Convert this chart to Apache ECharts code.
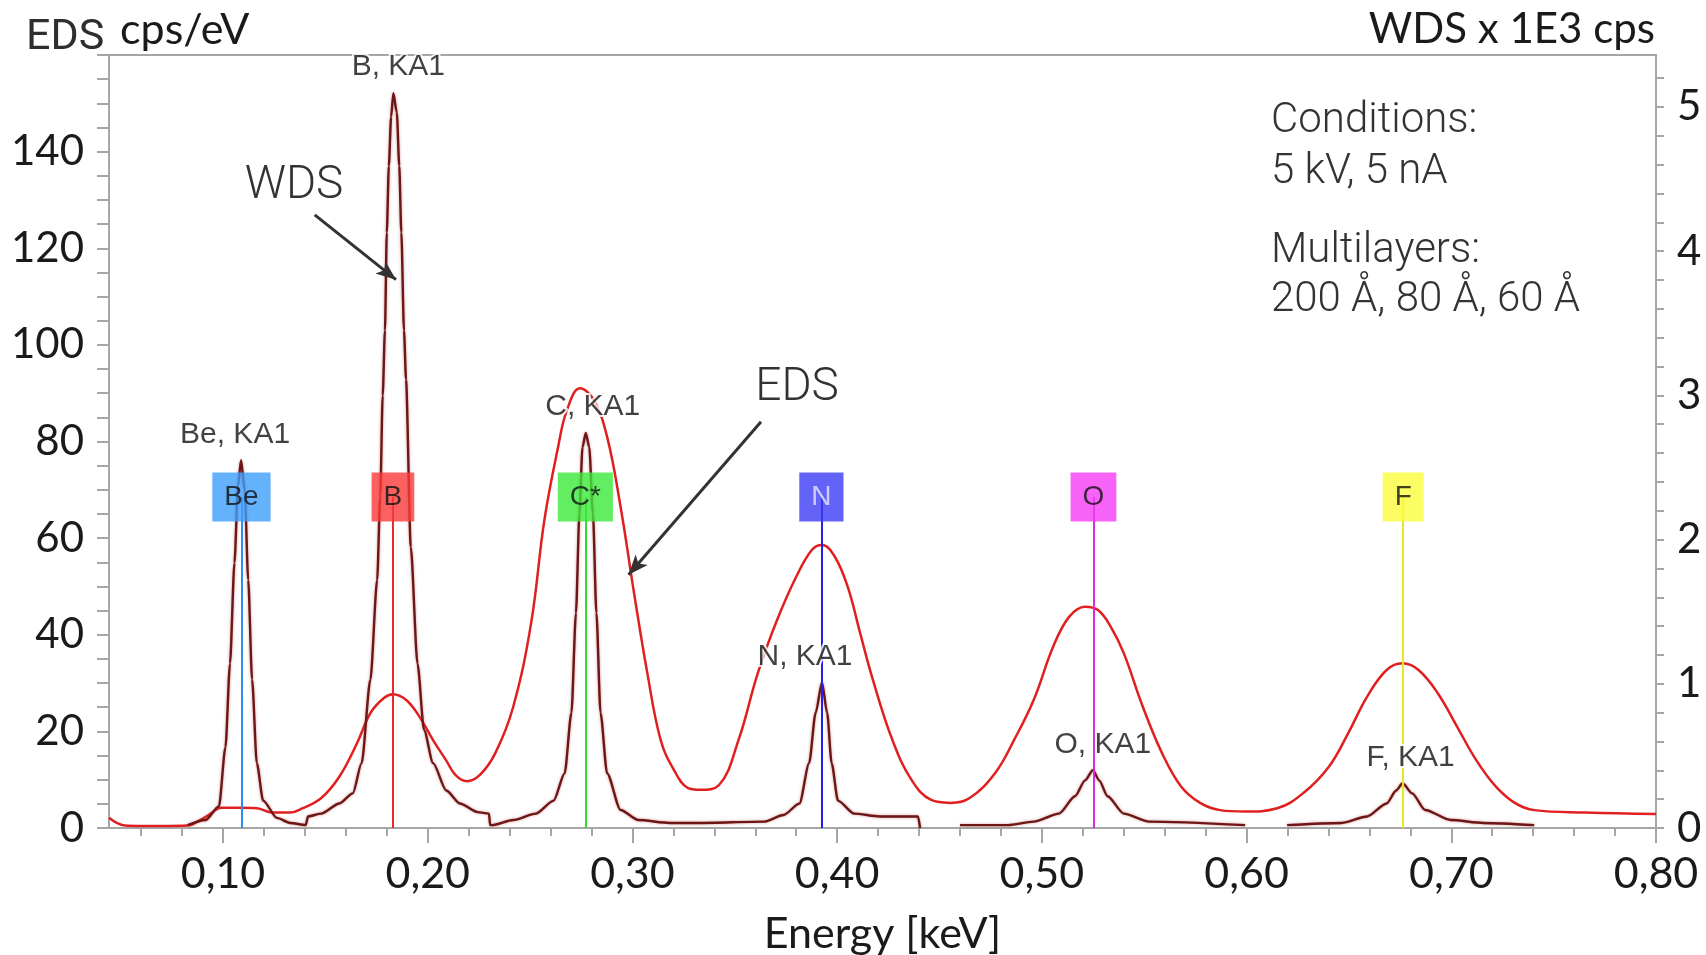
<!DOCTYPE html>
<html><head><meta charset="utf-8">
<script src="https://cdn.jsdelivr.net/npm/echarts@6/dist/echarts.min.js"></script>
<style>html,body{margin:0;padding:0;background:#fff}#c{width:1706px;height:955px}</style>
</head><body><div id="c"></div>
<script>
// ---- data ----
const edsEnergy = [0.0443,0.052,0.060,0.070,0.0827,0.089,0.094,0.099,0.108,0.1165,0.124,0.1328,0.139,0.148,0.1568,0.1655,0.172,0.1786,0.183,0.1895,0.196,0.2026,0.209,0.2135,0.219,0.2255,0.233,0.2417,0.2505,0.257,0.2637,0.268,0.2744,0.2811,0.2876,0.2942,0.3008,0.3073,0.3138,0.3203,0.327,0.333,0.3423,0.3518,0.3612,0.3706,0.380,0.3877,0.3926,0.3988,0.4051,0.4112,0.4175,0.427,0.4364,0.4459,0.4552,0.4647,0.4772,0.4864,0.496,0.5055,0.5133,0.5211,0.5274,0.5336,0.540,0.5493,0.5587,0.568,0.5773,0.587,0.5993,0.615,0.6276,0.6402,0.6496,0.6589,0.6684,0.6762,0.684,0.6934,0.7028,0.7121,0.7217,0.731,0.7405,0.7654,0.80];
const edsCps = [2.1,0.5,0.4,0.4,0.5,1.7,3.0,4.2,4.2,4.1,3.2,3.2,4.1,6.2,10.6,17.6,23.8,26.9,27.7,26.5,23.0,18.2,14.0,11.0,9.7,11.0,15.5,25.0,42.4,63.8,78.9,86.5,91.0,88.6,81.0,66.5,48.6,32.0,18.2,12.0,8.3,7.9,8.9,18.2,32.0,43.0,52.0,57.6,58.6,56.2,50.0,40.4,30.6,18.2,9.9,5.8,5.2,6.2,11.4,18.2,26.5,37.5,43.7,45.8,45.1,41.7,36.2,25.1,15.5,8.6,5.2,3.7,3.4,4.1,7.2,12.7,19.6,27.2,32.7,34.1,32.7,27.9,21.0,14.1,8.6,5.2,3.7,3.2,2.9];

const wdsEnergy = [0.0827,0.0914,0.098,0.1012,0.1034,0.1056,0.1073,0.1088,0.1106,0.1123,0.1142,0.1165,0.1196,0.1263,0.1328,0.1404,
 0.1415,0.148,0.1568,0.1634,0.1677,0.172,0.1753,0.1768,0.178,0.1791,0.180,0.181,0.1821,0.1832,0.1849,0.1861,0.1871,0.1884,0.1894,0.1917,0.195,0.1982,0.2026,0.2091,0.2157,0.2244,0.2299,0.2305,
 0.2314,0.2417,0.2528,0.2615,0.2669,0.2702,0.2724,0.2741,0.2756,0.2772,0.2789,0.2807,0.2824,0.2844,0.2876,0.2942,0.3029,0.3182,0.333,0.3643,0.3738,0.3816,0.3863,0.3895,0.3926,0.3951,0.3973,0.4004,0.4083,0.4208,0.4395,0.4405,
 0.45,
 0.46,0.4835,0.496,0.5084,0.5162,0.5211,0.5249,0.528,0.5321,0.540,0.5524,0.5993,
 0.61,
 0.6198,0.6465,0.6589,0.6684,0.6731,0.6762,0.6809,0.6872,0.6998,0.7155,0.7405];
const wdsKcps = [0.02,0.055,0.15,0.56,1.14,1.84,2.37,2.55,2.34,1.72,1.03,0.45,0.19,0.07,0.035,0.02,
 0.08,0.10,0.17,0.24,0.45,1.03,1.72,2.3,3.0,3.45,4.13,4.59,4.93,5.095,4.96,4.59,4.13,3.45,3.11,1.95,1.14,0.68,0.45,0.26,0.17,0.11,0.10,0.02,
 0.02,0.055,0.10,0.19,0.38,0.80,1.49,2.18,2.64,2.74,2.64,2.18,1.49,0.80,0.38,0.125,0.055,0.035,0.035,0.044,0.09,0.17,0.45,0.80,1.01,0.80,0.45,0.19,0.10,0.08,0.08,0.0,
 null,
 0.02,0.02,0.044,0.10,0.22,0.33,0.40,0.33,0.22,0.10,0.044,0.02,
 null,
 0.02,0.035,0.08,0.17,0.26,0.31,0.24,0.125,0.055,0.035,0.02];

const elementNames = ['Be','B','C*','N','O','F'];
const elementEnergy = [0.109,0.183,0.277,0.3923,0.5252,0.6765];

const peakNames = ['Be, KA1','B, KA1','C, KA1','N, KA1','O, KA1','F, KA1'];
const peakEnergy = [0.1088,0.1832,0.2772,0.3926,0.5249,0.6762];
const peakWds = [2.55,5.095,2.74,1.01,0.40,0.31];

const xMajorTicks = [0.1,0.2,0.3,0.4,0.5,0.6,0.7,0.8];
const xMinorTicks = [0.06,0.08,0.12,0.14,0.16,0.18,0.22,0.24,0.26,0.28,0.32,0.34,0.36,0.38,0.42,0.44,0.46,0.48,0.52,0.54,0.56,0.58,0.62,0.64,0.66,0.68,0.72,0.74,0.76,0.78];
const wdsTicks = [0,0.2,0.4,0.6,0.8,1,1.2,1.4,1.6,1.8,2,2.2,2.4,2.6,2.8,3,3.2,3.4,3.6,3.8,4,4.2,4.4,4.6,4.8,5,5.2];
const wdsLabels = [0,1,2,3,4,5];

// annotation arrows (start / tip in data units of the EDS axis)
const wdsArrow = [[0.1448,126.9],[0.1845,113.5]];
const edsArrow = [[0.3628,84.1],[0.2981,52.4]];

// ---- styles / layout ----
const boxLevel = 68.5;
const boxColors = ['#3d9dfb','#fb3a3a','#3be83b','#3c3cf5','#f53cf5','#fbfb3c'];
const boxTextColors = ['#111','#111','#111','#e8e8ff','#111','#111'];
const lineColors = ['#2b8ef0','#e82a2a','#2fdc2f','#2020f0','#d82ad8','#e8e820'];
const peakLabelDx = [-6,5,7,-17,10,8];
const gray = '#a6a6a6';
const axisFont = 'Lato';
const labFont = 'Liberation Sans';

const xMin = 0.0443, xMax = 0.80;

const chart = echarts.init(document.getElementById('c'), null, {renderer:'canvas'});
const zip = (a,b)=>a.map((v,i)=>[v,b[i]]);
const txt = (text,x,y,font,fill,align)=>({type:'text',silent:true,style:{text,x,y,font,fill,align,textAlign:align,verticalAlign:'middle',textVerticalAlign:'middle'}});

chart.setOption({
  animation:false,
  backgroundColor:'#fff',
  grid:{left:109,right:50,top:55,bottom:127,show:true,borderColor:gray,borderWidth:2,outerBoundsMode:'none',containLabel:false},
  xAxis:[{
    type:'value',min:xMin,max:xMax,position:'bottom',
    axisLine:{show:true,onZero:false,lineStyle:{color:gray,width:2}},
    axisTick:{show:true,length:15,customValues:xMajorTicks,lineStyle:{color:gray,width:2}},
    axisLabel:{customValues:xMajorTicks,margin:25,fontFamily:axisFont,fontSize:43,color:'#1a1a1a',
      formatter:v=>v.toFixed(2).replace('.',',')},
    splitLine:{show:false},
    name:'Energy [keV]',nameLocation:'middle',nameGap:85,
    nameTextStyle:{fontFamily:axisFont,fontSize:43,color:'#1a1a1a'}
  },{
    type:'value',min:xMin,max:xMax,position:'bottom',
    axisLine:{show:false,onZero:false},
    axisTick:{show:true,length:8,customValues:xMinorTicks,lineStyle:{color:gray,width:2}},
    axisLabel:{show:false},splitLine:{show:false}
  }],
  yAxis:[{
    type:'value',min:0,max:160,interval:20,position:'left',
    axisLine:{show:true,lineStyle:{color:gray,width:2}},
    axisTick:{show:true,length:12,lineStyle:{color:gray,width:2}},
    minorTick:{show:true,splitNumber:4,length:12,lineStyle:{color:gray,width:2}},
    axisLabel:{margin:25,showMaxLabel:false,fontFamily:axisFont,fontSize:42,color:'#1a1a1a'},
    splitLine:{show:false},minorSplitLine:{show:false}
  },{
    type:'value',min:0,max:5.36,position:'right',
    axisLine:{show:true,lineStyle:{color:gray,width:2}},
    axisTick:{show:true,length:8,customValues:wdsTicks,lineStyle:{color:gray,width:2}},
    axisLabel:{customValues:wdsLabels,margin:21,fontFamily:axisFont,fontSize:42,color:'#1a1a1a'},
    splitLine:{show:false}
  }],
  series:[{
    name:'EDS',type:'line',xAxisIndex:0,yAxisIndex:0,z:2,
    data:zip(edsEnergy,edsCps),showSymbol:false,symbol:'none',
    smooth:0.4,
    lineStyle:{color:'#e02020',width:2.5}
  },{
    name:'WDS',type:'line',xAxisIndex:0,yAxisIndex:1,z:3,
    data:zip(wdsEnergy,wdsKcps),showSymbol:false,symbol:'none',connectNulls:false,
    smooth:0.25,smoothMonotone:'x',
    lineStyle:{color:'#6e1515',width:2.4,shadowColor:'rgba(170,70,70,0.55)',shadowBlur:3}
  },{
    name:'markers',type:'scatter',xAxisIndex:0,yAxisIndex:0,z:5,symbolSize:0,silent:true,
    data:elementEnergy.map((e,i)=>({value:[e,boxLevel],label:{backgroundColor:boxColors[i],color:boxTextColors[i]}})),
    label:{show:true,position:'inside',formatter:p=>elementNames[p.dataIndex],
      fontFamily:labFont,fontSize:28,lineHeight:29,padding:[10,12]},
    markLine:{silent:true,symbol:'none',animation:false,label:{show:false},
      data:elementEnergy.map((e,i)=>[{coord:[e,0],lineStyle:{color:lineColors[i],width:2,type:'solid'}},{coord:[e,boxLevel]}])}
  },{
    name:'arrows',type:'line',xAxisIndex:0,yAxisIndex:0,z:6,data:[],silent:true,
    markLine:{silent:true,symbol:['none','arrow'],symbolSize:[12,20],animation:false,label:{show:false},
      lineStyle:{color:'#333',width:3,type:'solid'},itemStyle:{color:'#333'},
      data:[[{coord:wdsArrow[0]},{coord:wdsArrow[1]}],[{coord:edsArrow[0]},{coord:edsArrow[1]}]]}
  },{
    name:'peakLabels',type:'scatter',xAxisIndex:0,yAxisIndex:1,z:7,symbolSize:0,silent:true,
    data:peakEnergy.map((e,i)=>({value:[e,peakWds[i]],label:{offset:[peakLabelDx[i],0]}})),
    label:{show:true,position:'top',distance:11,formatter:p=>peakNames[p.dataIndex],
      fontFamily:labFont,fontSize:30,color:'#111',textBorderColor:'#fff',textBorderWidth:4}
  }],
  graphic:[
    txt('EDS',26,38,'400 43px Roboto','#2e2e2e','left'),
    txt('cps/eV',120,30,'43px Lato','#1a1a1a','left'),
    txt('WDS x 1E3 cps',1655,29,'42px Lato','#1a1a1a','right'),
    txt('Conditions:',1271,121,'300 42px Roboto','#333','left'),
    txt('5 kV, 5 nA',1271,172,'300 42px Roboto','#333','left'),
    txt('Multilayers:',1271,251,'300 42px Roboto','#333','left'),
    txt('200 Å, 80 Å, 60 Å',1271,300,'300 42px Roboto','#333','left'),
    txt('WDS',294,186,'300 46px Roboto','#333','center'),
    txt('EDS',797,388,'300 46px Roboto','#333','center')
  ]
});
</script></body></html>
